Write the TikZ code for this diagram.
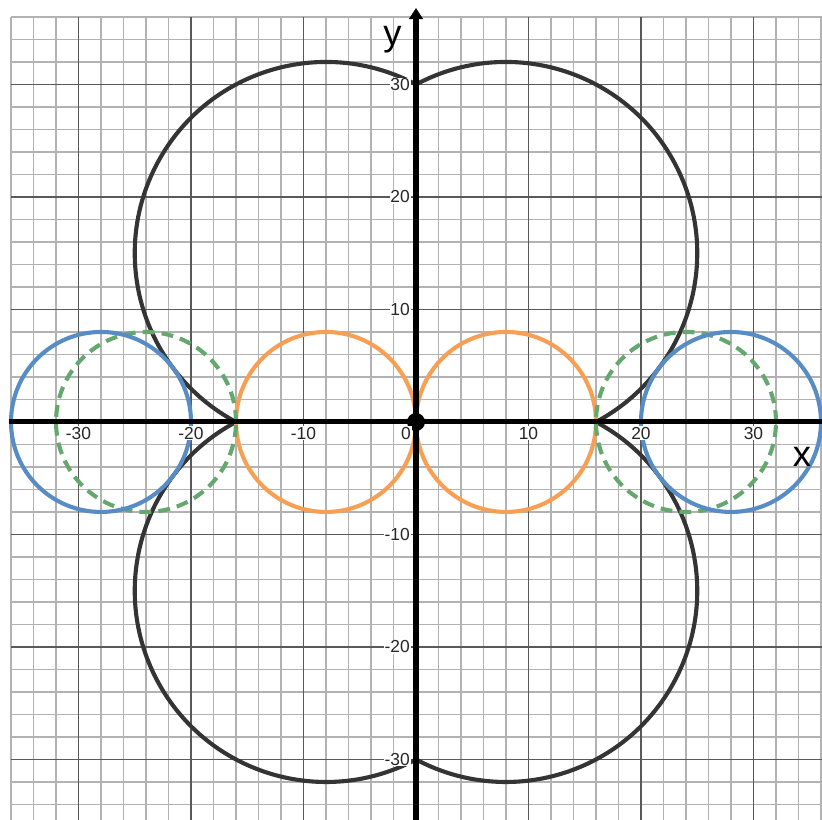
\documentclass[tikz,border=0pt]{standalone}
\usepackage{fontspec}
\setmainfont{Liberation Sans}
\usetikzlibrary{arrows.meta}
\definecolor{bleuCercle}{RGB}{88,140,196}
\definecolor{orangeCercle}{RGB}{247,160,85}
\definecolor{vertCercle}{RGB}{100,168,110}
\definecolor{noirCourbe}{RGB}{52,52,52}
\colorlet{GrilleFine}{black!30}
\colorlet{GrilleForte}{black!65}

\begin{document}
\begin{tikzpicture}[x=0.25cm,y=0.25cm,
      grille/.style={GrilleFine,line width=1pt},
      grilleMaj/.style={GrilleForte,line width=0.9pt},
      axe/.style={black,line width=3.2pt},
      courbe/.style={line width=2.6pt,line join=round},
      graduation/.style={font=\fontsize{11}{13}\selectfont,text=black!85,
        fill=white,inner sep=0.5pt},
      nomAxe/.style={font=\fontsize{23}{25}\selectfont,text=black,inner sep=0pt}
    ]
    \useasboundingbox (-36.98,-35.38) rectangle (36.09,37.51);
    \clip (-36.98,-35.38) rectangle (36.09,37.51);

    \foreach \v in {-36,-34,...,36}{
      \draw[grille] (\v,-36) -- (\v,36);
      \draw[grille] (-36,\v) -- (37,\v);
    }
    \foreach \v in {-30,-20,...,30}{
      \draw[grilleMaj] (\v,-36) -- (\v,36);
      \draw[grilleMaj] (-36,\v) -- (37,\v);
    }

    % Le contour noir : quatre demi-cercles de rayon 17 enchaînés en un seul chemin.
    \draw[courbe,noirCourbe] (0,30)
      arc[start angle=61.93,delta angle=180,radius=17]
      arc[start angle=118.07,delta angle=180,radius=17]
      arc[start angle=241.93,delta angle=180,radius=17]
      arc[start angle=-61.93,delta angle=180,radius=17];

    \draw[courbe,orangeCercle] (-8,0) circle[radius=8];
    \draw[courbe,orangeCercle] (8,0) circle[radius=8];
    \draw[courbe,vertCercle,dash pattern=on 7.5pt off 4.5pt] (-24,0) circle[radius=8];
    \draw[courbe,vertCercle,dash pattern=on 7.5pt off 4.5pt] (24,0) circle[radius=8];
    \draw[courbe,bleuCercle] (-28,0) circle[radius=8];
    \draw[courbe,bleuCercle] (28,0) circle[radius=8];

    \draw[axe,-{Triangle[length=7pt,width=8.5pt]}] (-36.2,0) -- (37.2,0);
    \draw[axe,-{Triangle[length=7pt,width=8.5pt]}] (0,-36) -- (0,36.8);
    \fill[black] (0,0) circle[radius=0.8];

    \foreach \v in {-30,-20,-10,10,20,30}{
      \node[graduation] (gx\v) at (\v,-1.0) {\v};
      \node[graduation,anchor=east] (gy\v) at (-0.45,\v) {\v};
    }
    \node[graduation] (g0) at (-0.9,-1.0) {0};

    \node[nomAxe] (nx) at (34.3,-3.1) {x};
    \node[nomAxe] (ny) at (-2.1,34.0) {y};
  \end{tikzpicture}
\end{document}
